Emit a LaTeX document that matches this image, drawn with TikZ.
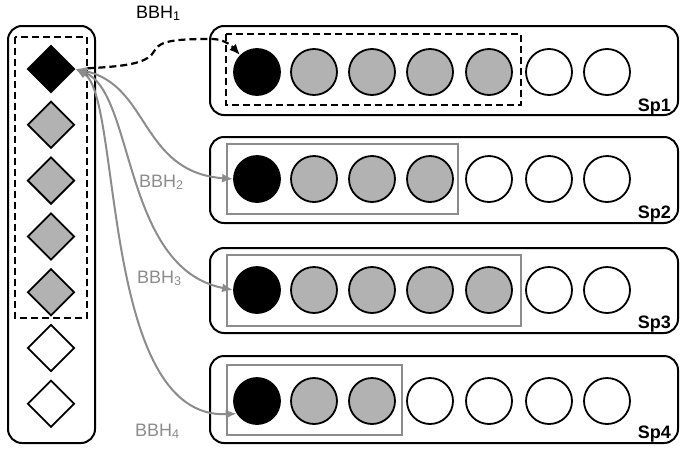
\documentclass[tikz,border=0pt]{standalone}
\usepackage{fontspec}
\setmainfont{Liberation Sans}
\usetikzlibrary{shapes.geometric,arrows.meta}
\definecolor{fillgray}{RGB}{178,178,178}
\definecolor{linegray}{RGB}{140,140,140}
\begin{document}
\begin{tikzpicture}[x=1pt,y=-1pt,
  panel/.style={draw=black,line width=2pt,rounded corners=14pt},
  ball/.style={circle,draw=black,line width=1.8pt,minimum size=46pt,inner sep=0pt},
  gem/.style={diamond,draw=black,line width=1.8pt,minimum size=47pt,inner sep=0pt,aspect=1},
  blk/.style={fill=black},
  gry/.style={fill=fillgray},
  wht/.style={fill=white},
  dashbox/.style={draw=black,line width=2.4pt,dash pattern=on 7pt off 4pt},
  graybox/.style={draw=linegray,line width=2.6pt},
  lab/.style={font=\fontsize{18}{20}\selectfont,inner sep=0pt,anchor=base west},
  splab/.style={font=\fontsize{18}{20}\selectfont\bfseries,inner sep=0pt,anchor=base east},
  grayarrow/.style={draw=linegray,line width=2pt,{Latex[length=11pt,width=9pt]}-{Latex[length=11pt,width=9pt]}},
  ]
\useasboundingbox (0,0) rectangle (685,450);

% left panel
\draw[panel] (8,26) rectangle (95,443);
\draw[dashbox] (15,37) rectangle (87,318);
\foreach \i/\s in {1/blk,2/gry,3/gry,4/gry,5/gry,6/wht,7/wht}{
  \node[gem,\s] (d\i) at (51,{69+55.8*(\i-1)}) {};
}

% right panels
\draw[panel] (210,26) rectangle (678,115);
\draw[panel] (210,137) rectangle (678,223);
\draw[panel] (210,248) rectangle (678,333);
\draw[panel] (210,356) rectangle (678,443);

\draw[dashbox] (226,34) rectangle (521,105);
\draw[graybox] (227,144) rectangle (458,214);
\draw[graybox] (227,255) rectangle (521,326);
\draw[graybox] (227,365) rectangle (402,435);

\foreach \r/\y/\list in {
  1/72/{blk,gry,gry,gry,gry,wht,wht},
  2/179/{blk,gry,gry,gry,wht,wht,wht},
  3/290/{blk,gry,gry,gry,gry,wht,wht},
  4/401/{blk,gry,gry,wht,wht,wht,wht}}{
  \foreach \s [count=\c] in \list {
    \pgfmathsetmacro{\xx}{{257,314,372,430,489,549,607}[\c-1]}
    \node[ball,\s] (c\r\c) at (\xx,\y) {};
  }
}

\node[splab] (sp1) at (671,111) {Sp1};
\node[splab] (sp2) at (671,218) {Sp2};
\node[splab] (sp3) at (671,328) {Sp3};
\node[splab] (sp4) at (671,438) {Sp4};

% connectors
\draw[grayarrow] (d1.east) .. controls (150,85) and (140,172) .. (c21.west);
\draw[grayarrow] (d1.east) .. controls (135,92) and (122,268) .. (c31.west);
\draw[grayarrow] (d1.east) .. controls (122,95) and (100,420) .. (c41.212);
\draw[black,line width=2.2pt,dash pattern=on 7pt off 4pt,-{Latex[length=11pt,width=9pt]},shorten <=12pt]
  (d1.east) .. controls (130,66) and (148,63) .. (155,50)
  .. controls (160,40) and (180,39) .. (212,39)
  .. controls (222,39) and (230,44) .. (c11.north west);

% labels
\node[lab] (b1) at (136,18) {BBH\textsubscript{1}};
\node[lab,text=linegray] (b2) at (139,187) {BBH\textsubscript{2}};
\node[lab,text=linegray] (b3) at (137,283) {BBH\textsubscript{3}};
\node[lab,text=linegray] (b4) at (135,436) {BBH\textsubscript{4}};
\end{tikzpicture}
\end{document}
